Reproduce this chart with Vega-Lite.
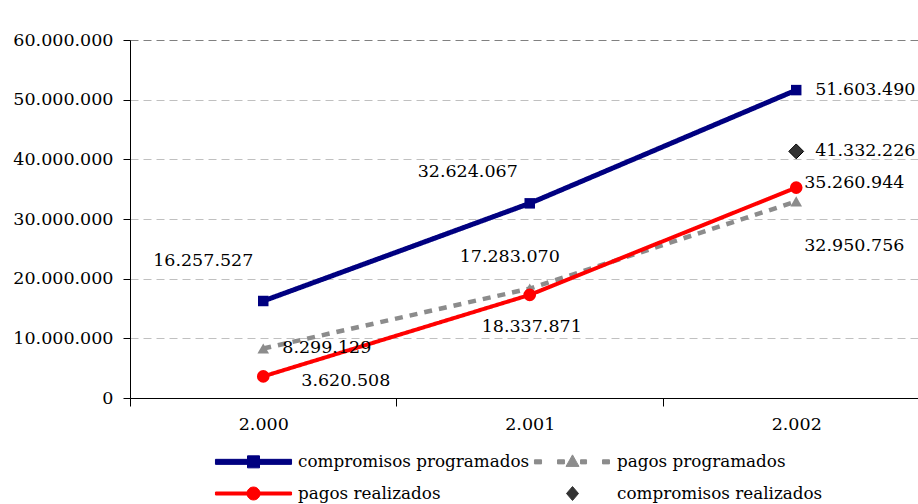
{
  "$schema": "https://vega.github.io/schema/vega-lite/v6.json",
  "width": 788,
  "height": 358,
  "autosize": "none",
  "padding": {"left": 130, "top": 40, "right": 0, "bottom": 106},
  "background": "white",
  "config": {
    "locale": {"number": {"decimal": ",", "thousands": ".", "grouping": [3], "currency": ["", ""]}},
    "view": {"stroke": null},
    "font": "DejaVu Serif",
    "axis": {"labelFont": "DejaVu Serif", "labelFontSize": 17.5, "labelColor": "black", "domainColor": "black", "tickColor": "black", "title": null},
    "legend": {"labelFont": "DejaVu Serif", "labelFontSize": 16.8, "labelColor": "black", "labelLimit": 500},
    "text": {"font": "DejaVu Serif", "fontSize": 17.5, "color": "black", "baseline": "middle"}
  },
  "data": {
    "values": [
      {"serie": "compromisos programados", "year": 2000, "value": 16257527},
      {"serie": "compromisos programados", "year": 2001, "value": 32624067},
      {"serie": "compromisos programados", "year": 2002, "value": 51603490},
      {"serie": "pagos programados", "year": 2000, "value": 8299129},
      {"serie": "pagos programados", "year": 2001, "value": 18337871},
      {"serie": "pagos programados", "year": 2002, "value": 32950756},
      {"serie": "pagos realizados", "year": 2000, "value": 3620508},
      {"serie": "pagos realizados", "year": 2001, "value": 17283070},
      {"serie": "pagos realizados", "year": 2002, "value": 35260944},
      {"serie": "compromisos realizados", "year": 2002, "value": 41332226}
    ]
  },
  "encoding": {
    "x": {
      "field": "year", "type": "quantitative",
      "scale": {"domain": [1999.5, 2002.457], "nice": false, "zero": false},
      "axis": {
        "values": [1999.5, 2000, 2000.5, 2001, 2001.5, 2002],
        "format": ",d",
        "labelExpr": "datum.value % 1 == 0 ? datum.label : ''",
        "tickOpacity": {"condition": {"test": "datum.value % 1 == 0", "value": 0}, "value": 1},
        "tickSize": 8, "labelPadding": 9, "grid": false, "labelFlush": false, "labelOverlap": false
      }
    },
    "y": {
      "field": "value", "type": "quantitative",
      "scale": {"domain": [0, 60000000], "nice": false},
      "axis": {
        "values": [0, 10000000, 20000000, 30000000, 40000000, 50000000, 60000000],
        "format": ",d", "tickSize": 7, "labelPadding": 10, "grid": true,
        "gridDash": [8, 5],
        "gridColor": {"condition": {"test": "datum.value == 60000000", "value": "#808080"}, "value": "#c0c0c0"}
      }
    }
  },
  "layer": [
    {
      "transform": [{"filter": "datum.serie != 'compromisos realizados'"}],
      "mark": {"type": "line", "strokeCap": "butt"},
      "encoding": {
        "color": {
          "field": "serie", "type": "nominal",
          "scale": {"domain": ["compromisos programados", "pagos programados", "pagos realizados", "compromisos realizados"], "range": ["#000080", "#8c8c8c", "#ff0000", "#333333"]},
          "legend": {
            "title": null, "orient": "none", "legendX": 111, "legendY": 409,
            "direction": "horizontal",
            "columns": 2, "columnPadding": 2, "rowPadding": 10, "labelOffset": 32,
            "symbolSize": 576,
            "encode": {
              "symbols": {
                "update": {
                  "shape": {"signal": "datum.value == 'compromisos programados' ? 'M-3.17,-0.21H3.17V0.21H-3.17Z M-0.5,-0.5H0.5V0.5H-0.5Z' : datum.value == 'pagos programados' ? 'M-3.17,-0.17H-2.58V0.17H-3.17Z M-1.25,-0.17H-0.67V0.17H-1.25Z M0.67,-0.17H1.17V0.17H0.67Z M2.5,-0.17H3.08V0.17H2.5Z M0,-0.58L0.54,0.38H-0.54Z' : datum.value == 'pagos realizados' ? 'M-3.17,-0.125H3.17V0.125H-3.17Z M-0.54,0A0.54,0.54 0 1,1 0.54,0A0.54,0.54 0 1,1 -0.54,0Z' : 'M0,-0.58L0.5,0L0,0.58L-0.5,0Z'"},
                  "fill": {"signal": "datum.value == 'compromisos programados' ? '#000080' : datum.value == 'pagos programados' ? '#8c8c8c' : datum.value == 'pagos realizados' ? '#ff0000' : '#333333'"},
                  "fillOpacity": {"value": 1},
                  "stroke": {"signal": "datum.value == 'compromisos realizados' ? '#000000' : 'transparent'"},
                  "strokeWidth": {"value": 1},
                  "strokeDash": {"value": []},
                  "opacity": {"value": 1}
                }
              }
            }
          }
        },
        "strokeDash": {
          "field": "serie", "type": "nominal", "legend": null,
          "scale": {"domain": ["compromisos programados", "pagos programados", "pagos realizados"], "range": [[1, 0], [8, 7], [1, 0]]}
        },
        "strokeWidth": {
          "field": "serie", "type": "nominal", "legend": null,
          "scale": {"domain": ["compromisos programados", "pagos programados", "pagos realizados"], "range": [5, 4, 3]}
        }
      }
    },
    {
      "transform": [{"filter": "datum.serie != 'compromisos realizados'"}],
      "mark": {"type": "point", "filled": true, "opacity": 1, "strokeWidth": 0},
      "encoding": {
        "color": {"field": "serie", "type": "nominal"},
        "shape": {
          "field": "serie", "type": "nominal", "legend": null,
          "scale": {"domain": ["compromisos programados", "pagos programados", "pagos realizados"], "range": ["square", "triangle-up", "circle"]}
        },
        "size": {
          "field": "serie", "type": "nominal", "legend": null,
          "scale": {"domain": ["compromisos programados", "pagos programados", "pagos realizados"], "range": [110, 160, 170]}
        }
      }
    },
    {
      "transform": [{"filter": "datum.serie == 'compromisos realizados'"}],
      "mark": {"type": "point", "shape": "diamond", "filled": true, "fill": "#333333", "stroke": "#000000", "strokeWidth": 1, "size": 220, "opacity": 1},
      "encoding": {}
    },
    {
      "transform": [{"filter": "(datum.serie == 'compromisos programados' && datum.year == 2002) || (datum.serie == 'pagos programados' && datum.year == 2000) || (datum.serie == 'compromisos realizados')"}],
      "mark": {"type": "text", "align": "left", "dx": 19, "dy": 0},
      "encoding": {"text": {"field": "value", "type": "quantitative", "format": ",d"}}
    },
    {
      "transform": [{"filter": "datum.serie == 'compromisos programados' && datum.year == 2000"}],
      "mark": {"type": "text", "align": "center", "dx": -60, "dy": -40},
      "encoding": {"text": {"field": "value", "type": "quantitative", "format": ",d"}}
    },
    {
      "transform": [{"filter": "datum.serie == 'compromisos programados' && datum.year == 2001"}],
      "mark": {"type": "text", "align": "center", "dx": -62, "dy": -31},
      "encoding": {"text": {"field": "value", "type": "quantitative", "format": ",d"}}
    },
    {
      "transform": [{"filter": "datum.serie == 'pagos programados' && datum.year == 2001"}],
      "mark": {"type": "text", "align": "center", "dx": 2, "dy": 38},
      "encoding": {"text": {"field": "value", "type": "quantitative", "format": ",d"}}
    },
    {
      "transform": [{"filter": "datum.serie == 'pagos programados' && datum.year == 2002"}],
      "mark": {"type": "text", "align": "left", "dx": 8, "dy": 45},
      "encoding": {"text": {"field": "value", "type": "quantitative", "format": ",d"}}
    },
    {
      "transform": [{"filter": "datum.serie == 'pagos realizados' && datum.year == 2000"}],
      "mark": {"type": "text", "align": "left", "dx": 38, "dy": 5},
      "encoding": {"text": {"field": "value", "type": "quantitative", "format": ",d"}}
    },
    {
      "transform": [{"filter": "datum.serie == 'pagos realizados' && datum.year == 2001"}],
      "mark": {"type": "text", "align": "center", "dx": -20, "dy": -38},
      "encoding": {"text": {"field": "value", "type": "quantitative", "format": ",d"}}
    },
    {
      "transform": [{"filter": "datum.serie == 'pagos realizados' && datum.year == 2002"}],
      "mark": {"type": "text", "align": "left", "dx": 8, "dy": -5},
      "encoding": {"text": {"field": "value", "type": "quantitative", "format": ",d"}}
    }
  ]
}
